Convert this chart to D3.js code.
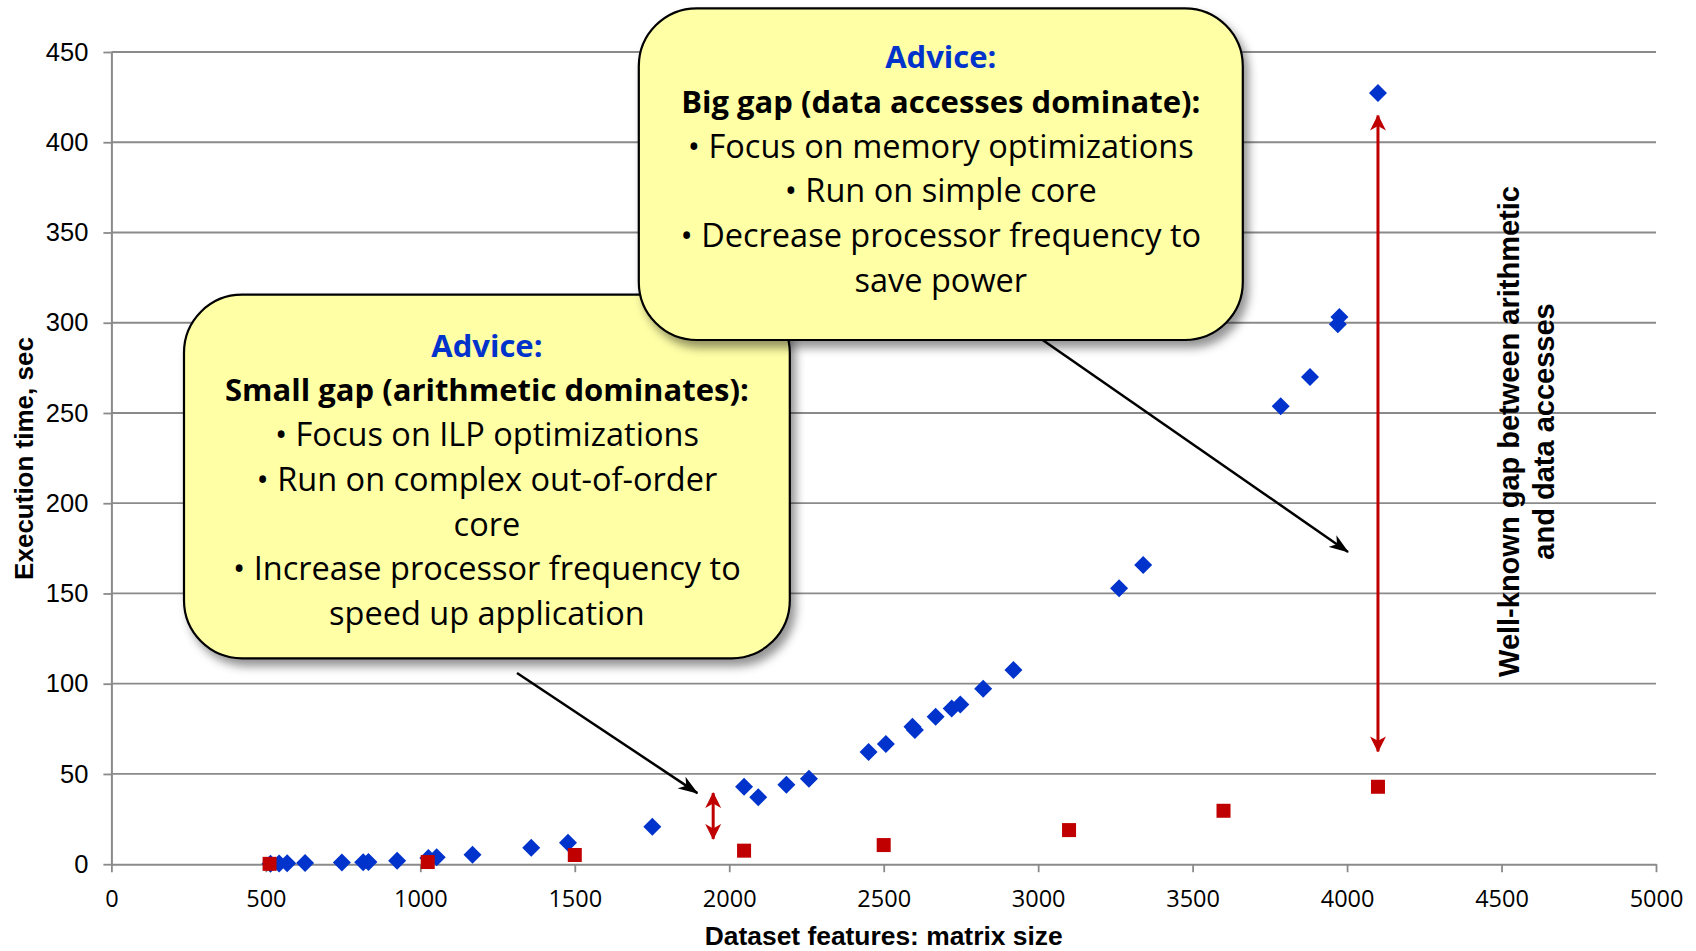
<!DOCTYPE html>
<html>
<head>
<meta charset="utf-8">
<script src="https://cdn.jsdelivr.net/npm/d3@7"></script>
<style>
  html, body { margin: 0; padding: 0; background: #ffffff; }
  svg { display: block; }
</style>
</head>
<body>
<svg id="chart" width="1696" height="951"></svg>
<script>
// ---- data -------------------------------------------------------------
const xTicks = [0, 500, 1000, 1500, 2000, 2500, 3000, 3500, 4000, 4500, 5000];
const yTicks = [0, 50, 100, 150, 200, 250, 300, 350, 400, 450];

// total execution time (blue diamonds)
const totalSizes = [515, 543, 569, 627, 746, 815, 832, 925, 1026, 1053, 1169, 1359, 1478, 1751,
  2048, 2094, 2185, 2258, 2451, 2507, 2593, 2601, 2668, 2720, 2748, 2822, 2920, 3262, 3340,
  3785, 3880, 3970, 3975, 4100];
const totalTimes = [0.3, 0.4, 0.5, 0.6, 0.9, 1.1, 1.2, 1.9, 3.4, 3.8, 5.3, 9.1, 11.9, 20.8,
  42.9, 37.1, 44.0, 47.4, 62.2, 66.6, 76.2, 74.3, 81.7, 86.3, 88.5, 97.2, 107.6, 152.9, 165.8,
  253.7, 270.0, 299.2, 303.2, 427.3];

// arithmetic-only execution time (red squares)
const arithSizes = [512, 1024, 1500, 2048, 2500, 3100, 3600, 4100];
const arithTimes = [0.2, 1.2, 5.1, 7.5, 10.6, 18.9, 29.6, 42.9];

// gap markers (double arrows) and pointers, in data units
const gapX = [1948, 4100];
const gapLow = [14.0, 62.5];
const gapHigh = [39.4, 414.8];
const pointerFrom = [[1313, 105.9], [2885, 305.8]];
const pointerTo = [[1897, 39.4], [4003, 173.0]];

const xTitle = "Dataset features: matrix size";
const yTitle = "Execution time, sec";
const gapNote = ["Well-known gap between arithmetic", "and data accesses"];

const smallGapLines = ["Advice:", "Small gap (arithmetic dominates):", "\u2022 Focus on ILP optimizations",
  "\u2022 Run on complex out-of-order", "core", "\u2022 Increase processor frequency to", "speed up application"];
const bigGapLines = ["Advice:", "Big gap (data accesses dominate):", "\u2022 Focus on memory optimizations",
  "\u2022 Run on simple core", "\u2022 Decrease processor frequency to", "save power"];

// ---- layout -----------------------------------------------------------
const svg = d3.select("#chart");
const x = d3.scaleLinear().domain([0, 5000]).range([111.4, 1656]);
const y = d3.scaleLinear().domain([0, 450]).range([864.2, 52]);

const GRID = "#8a8a8a";
const BLUE = "#0033cc";
const RED = "#c00000";

const defs = svg.append("defs");
const shadow = defs.append("filter").attr("id", "shadow")
  .attr("x", "-10%").attr("y", "-10%").attr("width", "125%").attr("height", "130%");
shadow.append("feDropShadow").attr("dx", 5).attr("dy", 7).attr("stdDeviation", 5)
  .attr("flood-color", "#000").attr("flood-opacity", 0.42);

function arrowMarker(id, color, len, half) {
  defs.append("marker").attr("id", id)
    .attr("markerUnits", "userSpaceOnUse")
    .attr("viewBox", `0 ${-half} ${len} ${half * 2}`)
    .attr("refX", len - 1).attr("refY", 0)
    .attr("markerWidth", len).attr("markerHeight", half * 2)
    .attr("orient", "auto-start-reverse")
    .append("path")
    .attr("d", `M0,${-half} L${len},0 L0,${half} L${len * 0.28},0 Z`)
    .attr("fill", color);
}
arrowMarker("headBlack", "#000", 20, 7);
arrowMarker("headRed", RED, 16, 8);

// ---- gridlines & axes -------------------------------------------------
svg.append("g").selectAll("line").data(yTicks.filter(d => d > 0)).join("line")
  .attr("x1", x(0)).attr("x2", x(5000))
  .attr("y1", d => y(d)).attr("y2", d => y(d))
  .attr("stroke", GRID).attr("stroke-width", 1.8);

const yAxis = svg.append("g").attr("transform", `translate(${x(0)},0)`)
  .call(d3.axisLeft(y).tickValues(yTicks).tickFormat(d3.format("d"))
    .tickSize(8).tickSizeOuter(0).tickPadding(15));
yAxis.selectAll("path, line").attr("stroke", GRID).attr("stroke-width", 1.8);
yAxis.selectAll("text").attr("font-family", "'Liberation Sans', Arial, sans-serif")
  .attr("font-size", 25.5).attr("fill", "#000");

const xAxis = svg.append("g").attr("transform", `translate(0,${y(0)})`)
  .call(d3.axisBottom(x).tickValues(xTicks).tickFormat(d3.format("d"))
    .tickSize(8).tickSizeOuter(0).tickPadding(18));
xAxis.selectAll("path, line").attr("stroke", GRID).attr("stroke-width", 1.8);
xAxis.selectAll("text").attr("font-family", "'Open Sans', sans-serif")
  .attr("font-size", 23.5).attr("fill", "#000");
svg.selectAll(".domain").attr("stroke-width", 2);

svg.append("text")
  .attr("transform", `translate(33,458.5) rotate(-90)`)
  .attr("text-anchor", "middle")
  .attr("font-family", "'Liberation Sans', Arial, sans-serif")
  .attr("font-weight", "bold").attr("font-size", 26)
  .text(yTitle);

svg.append("text")
  .attr("transform", `translate(${(x(0) + x(5000)) / 2},945)`)
  .attr("text-anchor", "middle")
  .attr("font-family", "'Liberation Sans', Arial, sans-serif")
  .attr("font-weight", "bold").attr("font-size", 26.4)
  .text(xTitle);

// ---- gap note ---------------------------------------------------------
svg.append("g").selectAll("text").data(gapNote).join("text")
  .attr("transform", (d, i) => `translate(${1519 + i * 35},431.5) rotate(-90)`)
  .attr("text-anchor", "middle")
  .attr("font-family", "'Liberation Sans', Arial, sans-serif")
  .attr("font-weight", "bold").attr("font-size", 29)
  .text(d => d);

// ---- pointer arrows (drawn beneath the callouts) ----------------------
svg.append("g").selectAll("line").data(pointerFrom).join("line")
  .attr("x1", d => x(d[0])).attr("y1", d => y(d[1]))
  .attr("x2", (d, i) => x(pointerTo[i][0])).attr("y2", (d, i) => y(pointerTo[i][1]))
  .attr("stroke", "#000").attr("stroke-width", 2.5)
  .attr("marker-end", "url(#headBlack)");

// ---- gap double arrows ------------------------------------------------
svg.append("g").selectAll("line").data(gapX).join("line")
  .attr("x1", d => x(d)).attr("x2", d => x(d))
  .attr("y1", (d, i) => y(gapLow[i])).attr("y2", (d, i) => y(gapHigh[i]))
  .attr("stroke", RED).attr("stroke-width", 3)
  .attr("marker-start", "url(#headRed)").attr("marker-end", "url(#headRed)");

// ---- series -----------------------------------------------------------
const diamond = d3.symbol().type(d3.symbolSquare).size(162);
svg.append("g").selectAll("path").data(totalSizes).join("path")
  .attr("d", diamond)
  .attr("transform", (d, i) => `translate(${x(d)},${y(totalTimes[i])}) rotate(45)`)
  .attr("fill", BLUE);

svg.append("g").selectAll("rect").data(arithSizes).join("rect")
  .attr("x", d => x(d) - 7).attr("y", (d, i) => y(arithTimes[i]) - 7)
  .attr("width", 14).attr("height", 14)
  .attr("fill", RED);

// ---- callouts ---------------------------------------------------------
function callout(left, top, right, bottom, lines, firstBaseline) {
  const g = svg.append("g");
  g.append("rect")
    .attr("x", left).attr("y", top)
    .attr("width", right - left).attr("height", bottom - top)
    .attr("rx", 58).attr("ry", 58)
    .attr("fill", "#ffffa6").attr("stroke", "#000").attr("stroke-width", 2.2)
    .attr("filter", "url(#shadow)");
  g.selectAll("text").data(lines).join("text")
    .attr("x", (left + right) / 2)
    .attr("y", (d, i) => firstBaseline + i * 44.7)
    .attr("text-anchor", "middle")
    .attr("font-family", "'Open Sans', sans-serif")
    .attr("font-size", (d, i) => i < 2 ? 31 : 32.5)
    .attr("font-weight", (d, i) => i < 2 ? "bold" : "normal")
    .attr("fill", (d, i) => i === 0 ? BLUE : "#000")
    .text(d => d);
}
callout(184, 294.7, 789.8, 658.3, smallGapLines, 356.7);
callout(638.8, 8.3, 1242.8, 340, bigGapLines, 68.3);
</script>
</body>
</html>
